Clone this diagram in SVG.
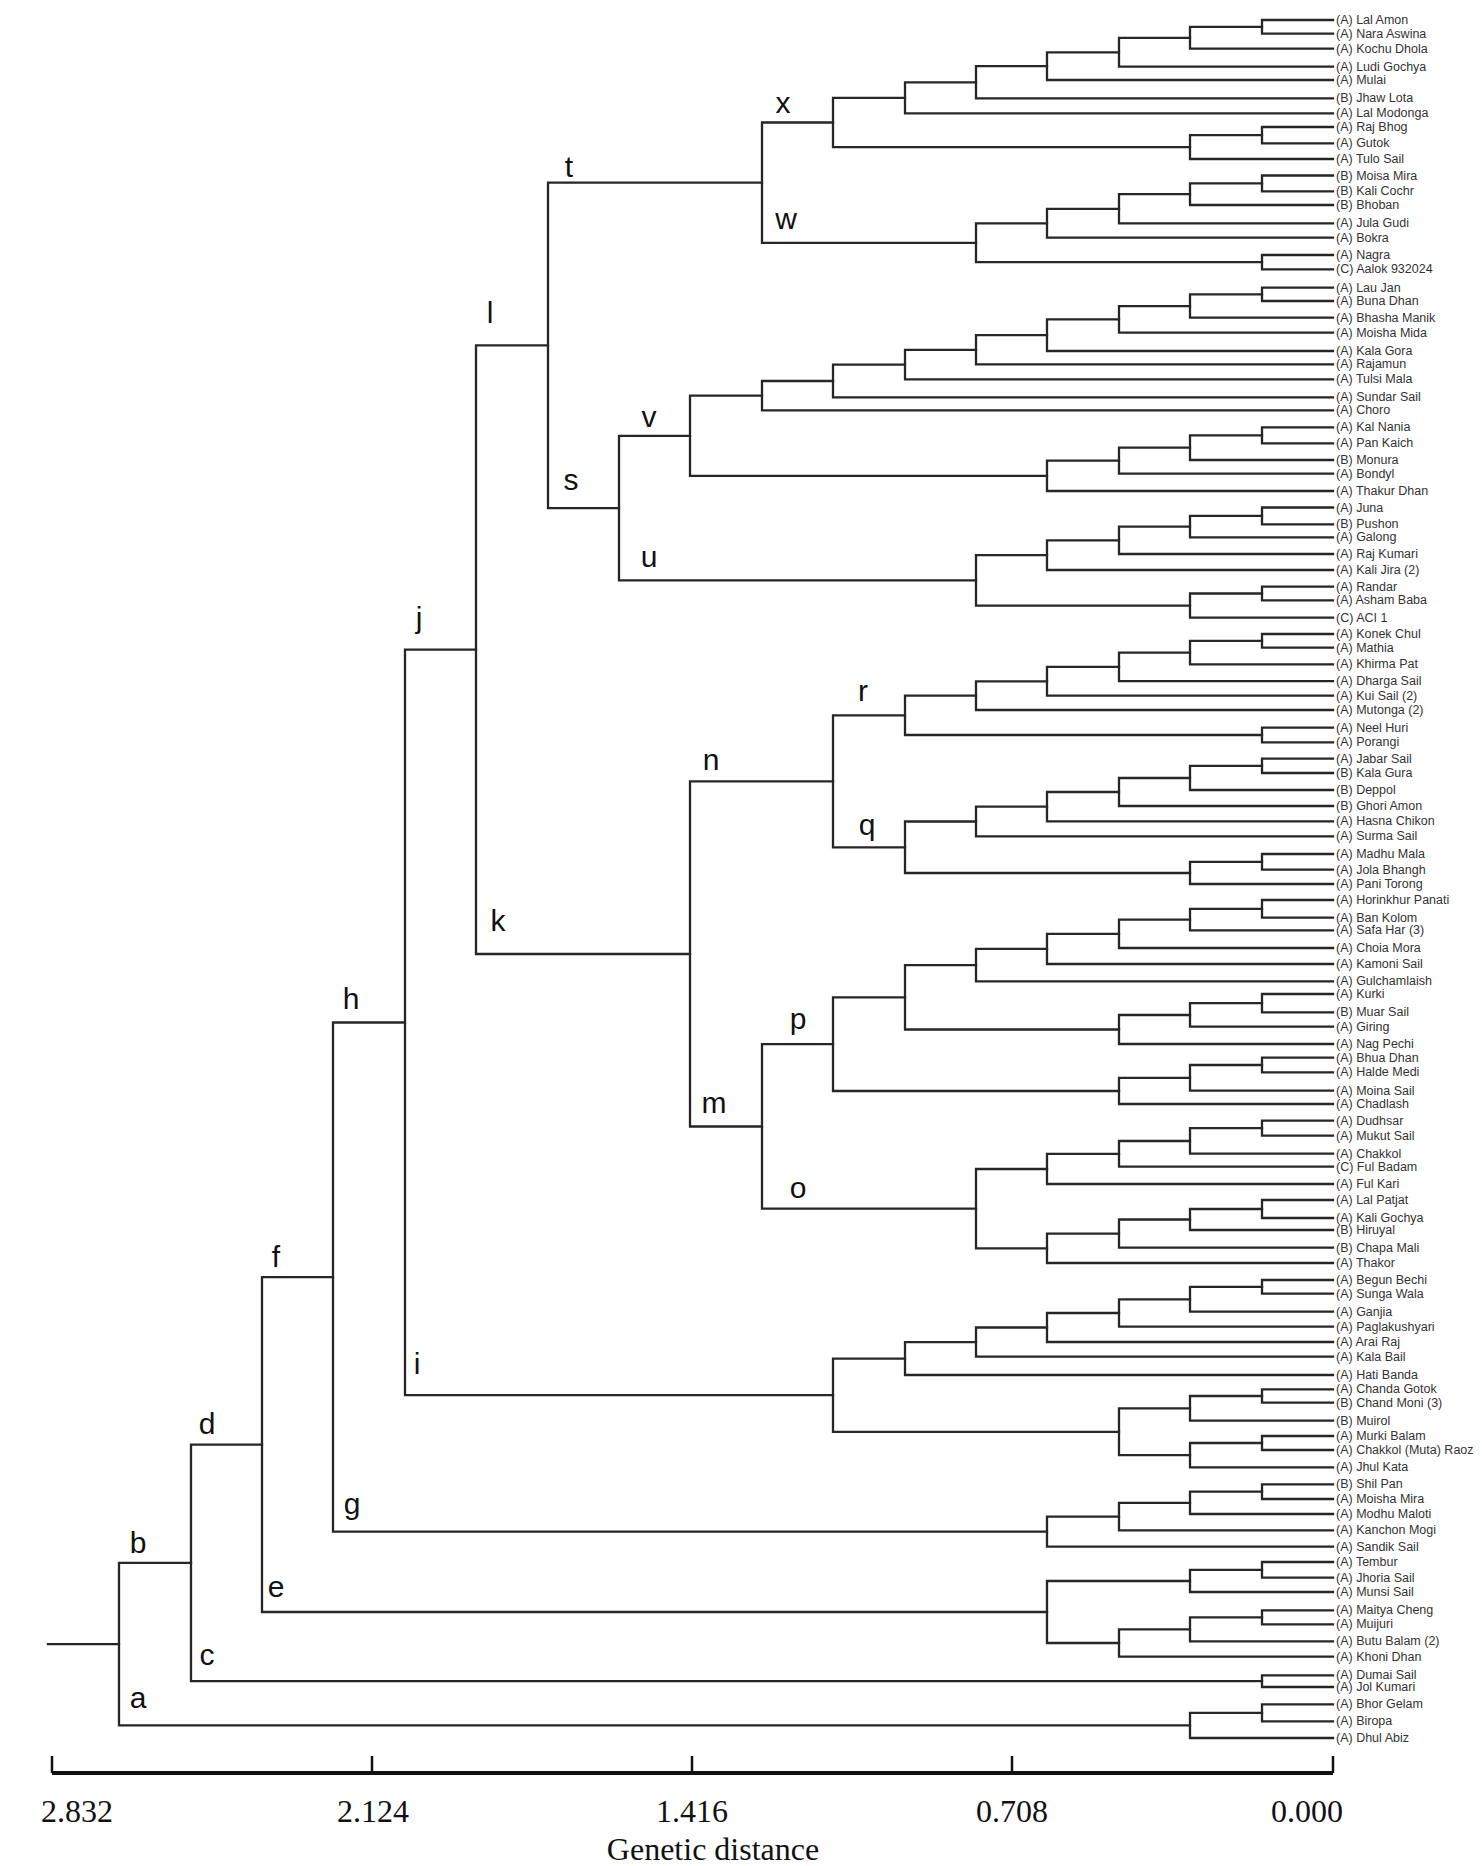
<svg xmlns="http://www.w3.org/2000/svg" width="1482" height="1866" viewBox="0 0 1482 1866">
<style>
.br{fill:none;stroke:#262626;stroke-width:2.3;stroke-linecap:square}
.ax{fill:none;stroke:#111;stroke-width:4}
.tk{fill:none;stroke:#111;stroke-width:2.5}
.lf{font-family:"Liberation Sans",Arial,sans-serif;font-size:12.5px;fill:#333;dominant-baseline:central}
.nl{font-family:"Liberation Sans",Arial,sans-serif;font-size:30px;fill:#111;text-anchor:middle}
.al{font-family:"Liberation Serif","Times New Roman",serif;font-size:32px;fill:#111;text-anchor:middle}
</style>
<rect width="1482" height="1866" fill="#fff"/>
<g id="connectors">
<path class="br" d="M1333 20H1262V33.7H1333"/>
<path class="br" d="M1262 26.9H1190V48.7H1333"/>
<path class="br" d="M1190 37.8H1119V66.7H1333"/>
<path class="br" d="M1119 52.3H1047V80H1333"/>
<path class="br" d="M1047 66.2H976V98.3H1333"/>
<path class="br" d="M976 82.3H905V113.3H1333"/>
<path class="br" d="M1333 127H1262V143.3H1333"/>
<path class="br" d="M1262 135.2H1190V159H1333"/>
<path class="br" d="M905 97.8H833V147.1H1190"/>
<path class="br" d="M1333 175.5H1262V191.3H1333"/>
<path class="br" d="M1262 183.4H1190V205H1333"/>
<path class="br" d="M1190 194.2H1119V223.3H1333"/>
<path class="br" d="M1119 208.8H1047V237.7H1333"/>
<path class="br" d="M1333 255H1262V269.3H1333"/>
<path class="br" d="M1047 223.3H976V262.2H1262"/>
<path class="br" d="M833 122.5H762V242.8H976"/>
<path class="br" d="M1333 287.7H1262V301H1333"/>
<path class="br" d="M1262 294.4H1190V317.7H1333"/>
<path class="br" d="M1190 306.1H1119V332.7H1333"/>
<path class="br" d="M1119 319.4H1047V351H1333"/>
<path class="br" d="M1047 335.2H976V364.3H1333"/>
<path class="br" d="M976 349.8H905V379.3H1333"/>
<path class="br" d="M905 364.6H833V397.3H1333"/>
<path class="br" d="M833 381H762V410.3H1333"/>
<path class="br" d="M1333 427.3H1262V443.3H1333"/>
<path class="br" d="M1262 435.3H1190V460H1333"/>
<path class="br" d="M1190 447.7H1119V473.7H1333"/>
<path class="br" d="M1119 460.7H1047V491H1333"/>
<path class="br" d="M762 395.7H690V475.9H1047"/>
<path class="br" d="M1333 507.5H1262V524.3H1333"/>
<path class="br" d="M1262 515.9H1190V537.3H1333"/>
<path class="br" d="M1190 526.6H1119V554H1333"/>
<path class="br" d="M1119 540.3H1047V570H1333"/>
<path class="br" d="M1333 586.7H1262V600.3H1333"/>
<path class="br" d="M1262 593.5H1190V617.7H1333"/>
<path class="br" d="M1047 555.2H976V605.6H1190"/>
<path class="br" d="M690 435.8H619V580.4H976"/>
<path class="br" d="M762 182.7H548V508.1H619"/>
<path class="br" d="M1333 634H1262V647.7H1333"/>
<path class="br" d="M1262 640.9H1190V664.3H1333"/>
<path class="br" d="M1190 652.6H1119V681.2H1333"/>
<path class="br" d="M1119 666.9H1047V695.7H1333"/>
<path class="br" d="M1047 681.3H976V710H1333"/>
<path class="br" d="M1333 727.7H1262V742.3H1333"/>
<path class="br" d="M976 695.7H905V735H1262"/>
<path class="br" d="M1333 758.7H1262V773H1333"/>
<path class="br" d="M1262 765.9H1190V790H1333"/>
<path class="br" d="M1190 778H1119V806H1333"/>
<path class="br" d="M1119 792H1047V821.3H1333"/>
<path class="br" d="M1047 806.7H976V836.3H1333"/>
<path class="br" d="M1333 854H1262V869.7H1333"/>
<path class="br" d="M1262 861.9H1190V884H1333"/>
<path class="br" d="M976 821.5H905V873H1190"/>
<path class="br" d="M905 715.4H833V847.3H905"/>
<path class="br" d="M1333 900H1262V917.7H1333"/>
<path class="br" d="M1262 908.9H1190V930.3H1333"/>
<path class="br" d="M1190 919.6H1119V948H1333"/>
<path class="br" d="M1119 933.8H1047V964H1333"/>
<path class="br" d="M1047 948.9H976V981.3H1333"/>
<path class="br" d="M1333 994H1262V1012.3H1333"/>
<path class="br" d="M1262 1003.2H1190V1026.7H1333"/>
<path class="br" d="M1190 1015H1119V1044H1333"/>
<path class="br" d="M976 965.1H905V1029.5H1119"/>
<path class="br" d="M1333 1057.7H1262V1072.3H1333"/>
<path class="br" d="M1262 1065H1190V1090.7H1333"/>
<path class="br" d="M1190 1077.9H1119V1104H1333"/>
<path class="br" d="M905 997.3H833V1091H1119"/>
<path class="br" d="M1333 1120.7H1262V1135.7H1333"/>
<path class="br" d="M1262 1128.2H1190V1153.7H1333"/>
<path class="br" d="M1190 1141H1119V1166.7H1333"/>
<path class="br" d="M1119 1153.9H1047V1184H1333"/>
<path class="br" d="M1333 1200H1262V1218H1333"/>
<path class="br" d="M1262 1209H1190V1230H1333"/>
<path class="br" d="M1190 1219.5H1119V1247.7H1333"/>
<path class="br" d="M1119 1233.6H1047V1263H1333"/>
<path class="br" d="M1047 1169H976V1248.3H1047"/>
<path class="br" d="M833 1044.2H762V1208.7H976"/>
<path class="br" d="M833 781.4H690V1126.5H762"/>
<path class="br" d="M548 345.4H476V954H690"/>
<path class="br" d="M1333 1280H1262V1293.7H1333"/>
<path class="br" d="M1262 1286.9H1190V1311.7H1333"/>
<path class="br" d="M1190 1299.3H1119V1326.7H1333"/>
<path class="br" d="M1119 1313H1047V1342H1333"/>
<path class="br" d="M1047 1327.5H976V1356.7H1333"/>
<path class="br" d="M976 1342.1H905V1375H1333"/>
<path class="br" d="M1333 1389.3H1262V1402.7H1333"/>
<path class="br" d="M1262 1396H1190V1420.7H1333"/>
<path class="br" d="M1333 1436H1262V1450H1333"/>
<path class="br" d="M1262 1443H1190V1467.3H1333"/>
<path class="br" d="M1190 1408.4H1119V1455.2H1190"/>
<path class="br" d="M905 1358.6H833V1431.8H1119"/>
<path class="br" d="M476 649.7H405V1395.2H833"/>
<path class="br" d="M1333 1484.3H1262V1499H1333"/>
<path class="br" d="M1262 1491.7H1190V1514H1333"/>
<path class="br" d="M1190 1502.9H1119V1530.3H1333"/>
<path class="br" d="M1119 1516.6H1047V1546.7H1333"/>
<path class="br" d="M405 1022.5H333V1531.7H1047"/>
<path class="br" d="M1333 1562H1262V1577.7H1333"/>
<path class="br" d="M1262 1569.9H1190V1592H1333"/>
<path class="br" d="M1333 1610.3H1262V1624.3H1333"/>
<path class="br" d="M1262 1617.3H1190V1641.3H1333"/>
<path class="br" d="M1190 1629.3H1119V1656.7H1333"/>
<path class="br" d="M1190 1581H1047V1643H1119"/>
<path class="br" d="M333 1277.1H262V1612H1047"/>
<path class="br" d="M1333 1675.3H1262V1687H1333"/>
<path class="br" d="M262 1444.6H191V1681.2H1262"/>
<path class="br" d="M1333 1704.3H1262V1721.3H1333"/>
<path class="br" d="M1262 1712.8H1190V1738H1333"/>
<path class="br" d="M191 1562.9H119V1725.4H1190"/>
<path class="br" d="M48 1644.2H119"/>
</g>
<g id="node-labels">
<g id="node-x"><text class="nl" x="783" y="113">x</text></g>
<g id="node-t"><text class="nl" x="569" y="177">t</text></g>
<g id="node-w"><text class="nl" x="786" y="229">w</text></g>
<g id="node-l"><text class="nl" x="490" y="323">l</text></g>
<g id="node-v"><text class="nl" x="649" y="427">v</text></g>
<g id="node-s"><text class="nl" x="571" y="490">s</text></g>
<g id="node-u"><text class="nl" x="649" y="567">u</text></g>
<g id="node-j"><text class="nl" x="419" y="628">j</text></g>
<g id="node-r"><text class="nl" x="863" y="701">r</text></g>
<g id="node-n"><text class="nl" x="711" y="770">n</text></g>
<g id="node-q"><text class="nl" x="867" y="835">q</text></g>
<g id="node-k"><text class="nl" x="498" y="931">k</text></g>
<g id="node-h"><text class="nl" x="351" y="1009">h</text></g>
<g id="node-p"><text class="nl" x="798" y="1029">p</text></g>
<g id="node-m"><text class="nl" x="714" y="1113">m</text></g>
<g id="node-o"><text class="nl" x="798" y="1198">o</text></g>
<g id="node-f"><text class="nl" x="276" y="1267">f</text></g>
<g id="node-i"><text class="nl" x="417" y="1374">i</text></g>
<g id="node-d"><text class="nl" x="207" y="1434">d</text></g>
<g id="node-g"><text class="nl" x="352" y="1514">g</text></g>
<g id="node-b"><text class="nl" x="138" y="1553">b</text></g>
<g id="node-e"><text class="nl" x="276" y="1597">e</text></g>
<g id="node-c"><text class="nl" x="207" y="1665">c</text></g>
<g id="node-a"><text class="nl" x="138" y="1708">a</text></g>
</g>
<g id="leaves">
<g id="leaf-1"><text class="lf" x="1336" y="20">(A) Lal Amon</text></g>
<g id="leaf-2"><text class="lf" x="1336" y="33.7">(A) Nara Aswina</text></g>
<g id="leaf-3"><text class="lf" x="1336" y="48.7">(A) Kochu Dhola</text></g>
<g id="leaf-4"><text class="lf" x="1336" y="66.7">(A) Ludi Gochya</text></g>
<g id="leaf-5"><text class="lf" x="1336" y="80">(A) Mulai</text></g>
<g id="leaf-6"><text class="lf" x="1336" y="98.3">(B) Jhaw Lota</text></g>
<g id="leaf-7"><text class="lf" x="1336" y="113.3">(A) Lal Modonga</text></g>
<g id="leaf-8"><text class="lf" x="1336" y="127">(A) Raj Bhog</text></g>
<g id="leaf-9"><text class="lf" x="1336" y="143.3">(A) Gutok</text></g>
<g id="leaf-10"><text class="lf" x="1336" y="159">(A) Tulo Sail</text></g>
<g id="leaf-11"><text class="lf" x="1336" y="175.5">(B) Moisa Mira</text></g>
<g id="leaf-12"><text class="lf" x="1336" y="191.3">(B) Kali Cochr</text></g>
<g id="leaf-13"><text class="lf" x="1336" y="205">(B) Bhoban</text></g>
<g id="leaf-14"><text class="lf" x="1336" y="223.3">(A) Jula Gudi</text></g>
<g id="leaf-15"><text class="lf" x="1336" y="237.7">(A) Bokra</text></g>
<g id="leaf-16"><text class="lf" x="1336" y="255">(A) Nagra</text></g>
<g id="leaf-17"><text class="lf" x="1336" y="269.3">(C) Aalok 932024</text></g>
<g id="leaf-18"><text class="lf" x="1336" y="287.7">(A) Lau Jan</text></g>
<g id="leaf-19"><text class="lf" x="1336" y="301">(A) Buna Dhan</text></g>
<g id="leaf-20"><text class="lf" x="1336" y="317.7">(A) Bhasha Manik</text></g>
<g id="leaf-21"><text class="lf" x="1336" y="332.7">(A) Moisha Mida</text></g>
<g id="leaf-22"><text class="lf" x="1336" y="351">(A) Kala Gora</text></g>
<g id="leaf-23"><text class="lf" x="1336" y="364.3">(A) Rajamun</text></g>
<g id="leaf-24"><text class="lf" x="1336" y="379.3">(A) Tulsi Mala</text></g>
<g id="leaf-25"><text class="lf" x="1336" y="397.3">(A) Sundar Sail</text></g>
<g id="leaf-26"><text class="lf" x="1336" y="410.3">(A) Choro</text></g>
<g id="leaf-27"><text class="lf" x="1336" y="427.3">(A) Kal Nania</text></g>
<g id="leaf-28"><text class="lf" x="1336" y="443.3">(A) Pan Kaich</text></g>
<g id="leaf-29"><text class="lf" x="1336" y="460">(B) Monura</text></g>
<g id="leaf-30"><text class="lf" x="1336" y="473.7">(A) Bondyl</text></g>
<g id="leaf-31"><text class="lf" x="1336" y="491">(A) Thakur Dhan</text></g>
<g id="leaf-32"><text class="lf" x="1336" y="507.5">(A) Juna</text></g>
<g id="leaf-33"><text class="lf" x="1336" y="524.3">(B) Pushon</text></g>
<g id="leaf-34"><text class="lf" x="1336" y="537.3">(A) Galong</text></g>
<g id="leaf-35"><text class="lf" x="1336" y="554">(A) Raj Kumari</text></g>
<g id="leaf-36"><text class="lf" x="1336" y="570">(A) Kali Jira (2)</text></g>
<g id="leaf-37"><text class="lf" x="1336" y="586.7">(A) Randar</text></g>
<g id="leaf-38"><text class="lf" x="1336" y="600.3">(A) Asham Baba</text></g>
<g id="leaf-39"><text class="lf" x="1336" y="617.7">(C) ACI 1</text></g>
<g id="leaf-40"><text class="lf" x="1336" y="634">(A) Konek Chul</text></g>
<g id="leaf-41"><text class="lf" x="1336" y="647.7">(A) Mathia</text></g>
<g id="leaf-42"><text class="lf" x="1336" y="664.3">(A) Khirma Pat</text></g>
<g id="leaf-43"><text class="lf" x="1336" y="681.2">(A) Dharga Sail</text></g>
<g id="leaf-44"><text class="lf" x="1336" y="695.7">(A) Kui Sail (2)</text></g>
<g id="leaf-45"><text class="lf" x="1336" y="710">(A) Mutonga (2)</text></g>
<g id="leaf-46"><text class="lf" x="1336" y="727.7">(A) Neel Huri</text></g>
<g id="leaf-47"><text class="lf" x="1336" y="742.3">(A) Porangi</text></g>
<g id="leaf-48"><text class="lf" x="1336" y="758.7">(A) Jabar Sail</text></g>
<g id="leaf-49"><text class="lf" x="1336" y="773">(B) Kala Gura</text></g>
<g id="leaf-50"><text class="lf" x="1336" y="790">(B) Deppol</text></g>
<g id="leaf-51"><text class="lf" x="1336" y="806">(B) Ghori Amon</text></g>
<g id="leaf-52"><text class="lf" x="1336" y="821.3">(A) Hasna Chikon</text></g>
<g id="leaf-53"><text class="lf" x="1336" y="836.3">(A) Surma Sail</text></g>
<g id="leaf-54"><text class="lf" x="1336" y="854">(A) Madhu Mala</text></g>
<g id="leaf-55"><text class="lf" x="1336" y="869.7">(A) Jola Bhangh</text></g>
<g id="leaf-56"><text class="lf" x="1336" y="884">(A) Pani Torong</text></g>
<g id="leaf-57"><text class="lf" x="1336" y="900">(A) Horinkhur Panati</text></g>
<g id="leaf-58"><text class="lf" x="1336" y="917.7">(A) Ban Kolom</text></g>
<g id="leaf-59"><text class="lf" x="1336" y="930.3">(A) Safa Har (3)</text></g>
<g id="leaf-60"><text class="lf" x="1336" y="948">(A) Choia Mora</text></g>
<g id="leaf-61"><text class="lf" x="1336" y="964">(A) Kamoni Sail</text></g>
<g id="leaf-62"><text class="lf" x="1336" y="981.3">(A) Gulchamlaish</text></g>
<g id="leaf-63"><text class="lf" x="1336" y="994">(A) Kurki</text></g>
<g id="leaf-64"><text class="lf" x="1336" y="1012.3">(B) Muar Sail</text></g>
<g id="leaf-65"><text class="lf" x="1336" y="1026.7">(A) Giring</text></g>
<g id="leaf-66"><text class="lf" x="1336" y="1044">(A) Nag Pechi</text></g>
<g id="leaf-67"><text class="lf" x="1336" y="1057.7">(A) Bhua Dhan</text></g>
<g id="leaf-68"><text class="lf" x="1336" y="1072.3">(A) Halde Medi</text></g>
<g id="leaf-69"><text class="lf" x="1336" y="1090.7">(A) Moina Sail</text></g>
<g id="leaf-70"><text class="lf" x="1336" y="1104">(A) Chadlash</text></g>
<g id="leaf-71"><text class="lf" x="1336" y="1120.7">(A) Dudhsar</text></g>
<g id="leaf-72"><text class="lf" x="1336" y="1135.7">(A) Mukut Sail</text></g>
<g id="leaf-73"><text class="lf" x="1336" y="1153.7">(A) Chakkol</text></g>
<g id="leaf-74"><text class="lf" x="1336" y="1166.7">(C) Ful Badam</text></g>
<g id="leaf-75"><text class="lf" x="1336" y="1184">(A) Ful Kari</text></g>
<g id="leaf-76"><text class="lf" x="1336" y="1200">(A) Lal Patjat</text></g>
<g id="leaf-77"><text class="lf" x="1336" y="1218">(A) Kali Gochya</text></g>
<g id="leaf-78"><text class="lf" x="1336" y="1230">(B) Hiruyal</text></g>
<g id="leaf-79"><text class="lf" x="1336" y="1247.7">(B) Chapa Mali</text></g>
<g id="leaf-80"><text class="lf" x="1336" y="1263">(A) Thakor</text></g>
<g id="leaf-81"><text class="lf" x="1336" y="1280">(A) Begun Bechi</text></g>
<g id="leaf-82"><text class="lf" x="1336" y="1293.7">(A) Sunga Wala</text></g>
<g id="leaf-83"><text class="lf" x="1336" y="1311.7">(A) Ganjia</text></g>
<g id="leaf-84"><text class="lf" x="1336" y="1326.7">(A) Paglakushyari</text></g>
<g id="leaf-85"><text class="lf" x="1336" y="1342">(A) Arai Raj</text></g>
<g id="leaf-86"><text class="lf" x="1336" y="1356.7">(A) Kala Bail</text></g>
<g id="leaf-87"><text class="lf" x="1336" y="1375">(A) Hati Banda</text></g>
<g id="leaf-88"><text class="lf" x="1336" y="1389.3">(A) Chanda Gotok</text></g>
<g id="leaf-89"><text class="lf" x="1336" y="1402.7">(B) Chand Moni (3)</text></g>
<g id="leaf-90"><text class="lf" x="1336" y="1420.7">(B) Muirol</text></g>
<g id="leaf-91"><text class="lf" x="1336" y="1436">(A) Murki Balam</text></g>
<g id="leaf-92"><text class="lf" x="1336" y="1450">(A) Chakkol (Muta) Raoz</text></g>
<g id="leaf-93"><text class="lf" x="1336" y="1467.3">(A) Jhul Kata</text></g>
<g id="leaf-94"><text class="lf" x="1336" y="1484.3">(B) Shil Pan</text></g>
<g id="leaf-95"><text class="lf" x="1336" y="1499">(A) Moisha Mira</text></g>
<g id="leaf-96"><text class="lf" x="1336" y="1514">(A) Modhu Maloti</text></g>
<g id="leaf-97"><text class="lf" x="1336" y="1530.3">(A) Kanchon Mogi</text></g>
<g id="leaf-98"><text class="lf" x="1336" y="1546.7">(A) Sandik Sail</text></g>
<g id="leaf-99"><text class="lf" x="1336" y="1562">(A) Tembur</text></g>
<g id="leaf-100"><text class="lf" x="1336" y="1577.7">(A) Jhoria Sail</text></g>
<g id="leaf-101"><text class="lf" x="1336" y="1592">(A) Munsi Sail</text></g>
<g id="leaf-102"><text class="lf" x="1336" y="1610.3">(A) Maitya Cheng</text></g>
<g id="leaf-103"><text class="lf" x="1336" y="1624.3">(A) Muijuri</text></g>
<g id="leaf-104"><text class="lf" x="1336" y="1641.3">(A) Butu Balam (2)</text></g>
<g id="leaf-105"><text class="lf" x="1336" y="1656.7">(A) Khoni Dhan</text></g>
<g id="leaf-106"><text class="lf" x="1336" y="1675.3">(A) Dumai Sail</text></g>
<g id="leaf-107"><text class="lf" x="1336" y="1687">(A) Jol Kumari</text></g>
<g id="leaf-108"><text class="lf" x="1336" y="1704.3">(A) Bhor Gelam</text></g>
<g id="leaf-109"><text class="lf" x="1336" y="1721.3">(A) Biropa</text></g>
<g id="leaf-110"><text class="lf" x="1336" y="1738">(A) Dhul Abiz</text></g>
</g>
<g id="axis">
<path class="ax" d="M52 1773H1333"/>
<path class="tk" d="M52 1756V1773M372 1756V1773M692 1756V1773M1012 1756V1773M1333 1756V1773"/>
<text class="al" x="77" y="1822">2.832</text>
<text class="al" x="373" y="1822">2.124</text>
<text class="al" x="692" y="1822">1.416</text>
<text class="al" x="1012" y="1822">0.708</text>
<text class="al" x="1307" y="1822">0.000</text>
<text class="al" x="713" y="1860">Genetic distance</text>
</g>
</svg>
